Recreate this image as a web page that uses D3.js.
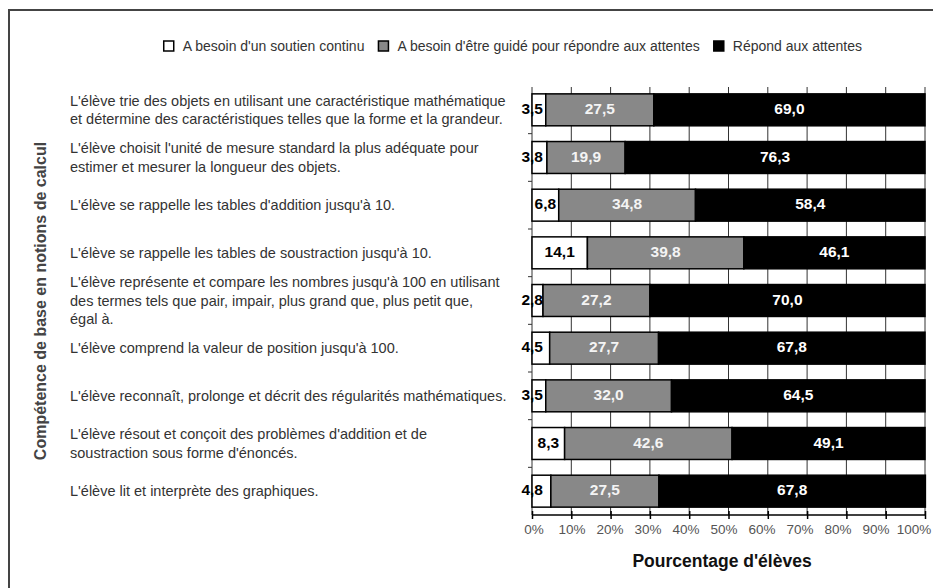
<!DOCTYPE html>
<html><head><meta charset="utf-8">
<script src="https://cdn.jsdelivr.net/npm/d3@7"></script>
<style>body{margin:0;background:#fff}svg{display:block;font-family:Arial,"Liberation Sans",sans-serif}</style>
</head><body><svg id="c" width="933" height="588"></svg>
<script>
const categories = [
  ["L'élève trie des objets en utilisant une caractéristique mathématique","et détermine des caractéristiques telles que la forme et la grandeur."],
  ["L'élève choisit l'unité de mesure standard la plus adéquate pour","estimer et mesurer la longueur des objets."],
  ["L'élève se rappelle les tables d'addition jusqu'à 10."],
  ["L'élève se rappelle les tables de soustraction jusqu'à 10."],
  ["L'élève représente et compare les nombres jusqu'à 100 en utilisant","des termes tels que pair, impair, plus grand que, plus petit que,","égal à."],
  ["L'élève comprend la valeur de position jusqu'à 100."],
  ["L'élève reconnaît, prolonge et décrit des régularités mathématiques."],
  ["L'élève résout et conçoit des problèmes d'addition et de","soustraction sous forme d'énoncés."],
  ["L'élève lit et interprète des graphiques."]
];
const seriesNames = ["A besoin d'un soutien continu","A besoin d'être guidé pour répondre aux attentes","Répond aux attentes"];
const soutien = [3.5,3.8,6.8,14.1,2.8,4.5,3.5,8.3,4.8];
const guide   = [27.5,19.9,34.8,39.8,27.2,27.7,32.0,42.6,27.5];
const repond  = [69.0,76.3,58.4,46.1,70.0,67.8,64.5,49.1,67.8];
const tickValues = [0,10,20,30,40,50,60,70,80,90,100];
const tickLabels = ["0%","10%","20%","30%","40%","50%","60%","70%","80%","90%","100%"];
const xTitle = "Pourcentage d'élèves";
const yTitle = "Compétence de base en notions de calcul";

const svg = d3.select("#c");
const fills = ["#ffffff","#888888","#000000"];
const textFills = ["#000","#f4f4f4","#fff"];

// frame
svg.append("rect").attr("x",9).attr("y",10).attr("width",960).attr("height",620)
  .attr("fill","none").attr("stroke","#444").attr("stroke-width",2);

const rows = categories.map((c,i)=>({i, s0:soutien[i], s1:guide[i], s2:repond[i]}));
const keys = ["s0","s1","s2"];
const stack = d3.stack().keys(keys)(rows);

const x = d3.scaleLinear().domain([0,100]).range([532,925]);
const xl = d3.scaleLinear().domain([0,100]).range([534,914]); // tick label placement
const y = d3.scaleBand().domain(d3.range(categories.length)).range([86,515]).paddingInner(0.33).paddingOuter(0.165);

// grid
const gTop = 87, gBot = 515;
svg.append("g").selectAll("line").data(tickValues).join("line")
  .attr("x1",d=>x(d)).attr("x2",d=>x(d)).attr("y1",gTop).attr("y2",gBot)
  .attr("stroke","#333").attr("stroke-width",1);

// left axis small ticks at band boundaries
const bounds = d3.range(1,categories.length).map(i=> y(i) - (y.step()-y.bandwidth())/2);
svg.append("g").selectAll("line").data(bounds).join("line")
  .attr("x1",x(0)-4).attr("x2",x(0)).attr("y1",d=>d).attr("y2",d=>d).attr("stroke","#333");

// bars
const layer = svg.append("g").selectAll("g").data(stack).join("g")
  .attr("fill",(d,k)=>fills[k]);
layer.selectAll("rect").data(d=>d).join("rect")
  .attr("x",d=>x(d[0])).attr("width",d=>x(d[1])-x(d[0]))
  .attr("y",(d,i)=>y(i)).attr("height",y.bandwidth())
  .attr("stroke","#000").attr("stroke-width",1.5);

// value labels
const fmt = v => d3.format(".1f")(v).replace(".",",");
stack.forEach((s,k)=>{
  svg.append("g").selectAll("text").data(s).join("text")
    .attr("x",(d)=>{ const v=d[1]-d[0]; return (k===0 && v<6) ? x(0)+11 : (x(d[0])+x(d[1]))/2; })
    .attr("text-anchor",d=>{ const v=d[1]-d[0]; return (k===0 && v<6) ? "end" : "middle"; })
    .attr("y",(d,i)=>y(i)+y.bandwidth()/2+4)
    .attr("font-size",15.5).attr("font-weight","bold")
    .attr("fill",textFills[k])
    .text(d=>fmt(d[1]-d[0]));
});

// x axis
const ax = svg.append("g").attr("transform",`translate(0,${gBot})`)
  .call(d3.axisBottom(x).tickValues(tickValues).tickSize(4).tickFormat(""));
ax.select(".domain").attr("stroke","#000").attr("stroke-width",1.5).attr("d",`M${x(0)},0H${x(100)}`);
ax.selectAll(".tick line").attr("stroke","#000").attr("y1",-4).attr("stroke-width",1.5);
svg.append("g").selectAll("text").data(tickValues).join("text")
  .attr("x",d=>xl(d)).attr("y",534).attr("text-anchor","middle")
  .attr("font-size",13.5).attr("fill","#555").text((d,i)=>tickLabels[i]);

// category labels
const lh = 18.5;
const lbl = svg.append("g").selectAll("text").data(categories).join("text")
  .attr("x",70).attr("font-size",14.5).attr("fill","#333");
lbl.each(function(lines,i){
  const cy = y(i)+y.bandwidth()/2;
  const start = cy - (lines.length-1)*lh/2 + 5;
  d3.select(this).selectAll("tspan").data(lines).join("tspan")
    .attr("x",70).attr("y",(d,j)=>start+j*lh).text(d=>d);
});

// titles
svg.append("text").attr("x",722).attr("y",567).attr("text-anchor","middle")
  .attr("font-size",17.5).attr("font-weight","bold").attr("fill","#111").text(xTitle);
svg.append("text").attr("transform","translate(46,301) rotate(-90)").attr("text-anchor","middle")
  .attr("font-size",16).attr("font-weight","bold").attr("fill","#444").text(yTitle);

// legend
const leg = svg.append("g");
const sq = 10, gapT = 9, gapI = 14;
const items = leg.selectAll("g").data(seriesNames).join("g");
items.append("rect").attr("width",sq).attr("height",sq).attr("y",-sq/2)
  .attr("fill",(d,k)=>fills[k]).attr("stroke","#000").attr("stroke-width",1.5);
items.append("text").attr("x",sq+gapT).attr("y",5).attr("font-size",14).attr("fill","#333").text(d=>d);
let cx = 0; const pos=[];
items.each(function(){ pos.push(cx); cx += sq+gapT+this.querySelector("text").getComputedTextLength()+gapI; });
const total = cx - gapI;
const x0 = 862 - total;
items.attr("transform",(d,k)=>`translate(${x0+pos[k]},46)`);
</script></body></html>
